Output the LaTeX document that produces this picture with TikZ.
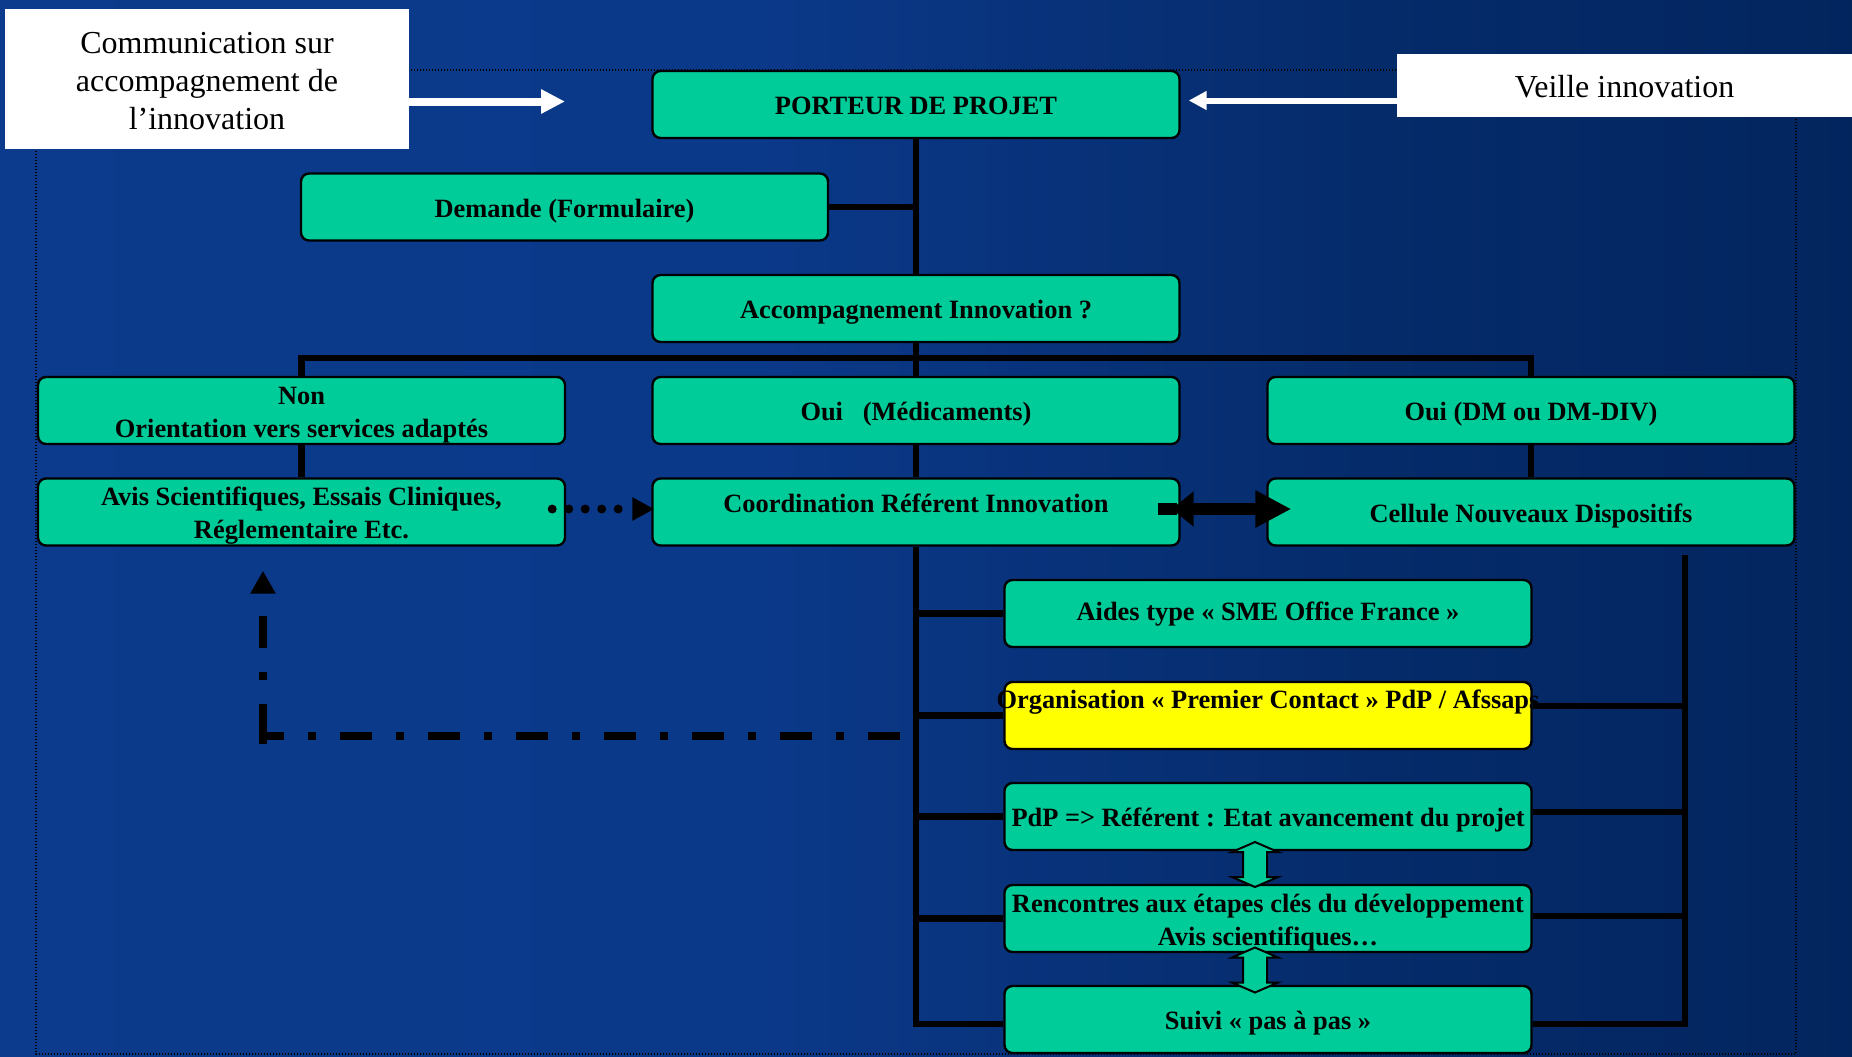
\documentclass[tikz,border=0pt]{standalone}
\usepackage{fontspec}
\setmainfont{Liberation Serif}
\usetikzlibrary{arrows.meta,calc}
\definecolor{boxgreen}{RGB}{0,204,153}
\definecolor{boxyellow}{RGB}{255,255,0}
\definecolor{bgA}{RGB}{13,60,142}
\definecolor{bgB}{RGB}{11,57,138}
\definecolor{bgC}{RGB}{5,43,106}
\definecolor{bgD}{RGB}{2,35,90}
\definecolor{bgE}{RGB}{1,29,76}
\pgfdeclarehorizontalshading{bgsh}{100bp}{color(0bp)=(bgA); color(45bp)=(bgB); color(62bp)=(bgC); color(80bp)=(bgD); color(100bp)=(bgE)}
\pgfdeclarelayer{back}
\pgfdeclarelayer{wires}
\pgfsetlayers{back,wires,main}
% one line of text, with no height for the node, lowered by #1 below the line's centre
\newcommand\bxl[2][5pt]{\raisebox{-#1}[0pt][0pt]{#2}}
\tikzset{
  box/.style={draw=black, line width=1.2pt, rounded corners=4pt, fill=boxgreen,
    minimum width=263.5pt, minimum height=33.5pt, inner xsep=-12pt, inner ysep=0pt,
    align=center, text=black, font=\fontsize{13.2pt}{16.5pt}\selectfont\bfseries},
  wbox/.style={fill=white, draw=none, inner sep=0pt, align=center, text=black,
    font=\fontsize{16pt}{19pt}\selectfont},
  link/.style={draw=black, line width=3.2pt},
  frameline/.style={draw=black, line width=0.6pt, dash pattern=on 0.6pt off 0.9pt},
  warrowA/.style={draw=white, fill=white, line width=4pt, -{Triangle[length=12pt,width=11.5pt]}},
  warrowB/.style={draw=white, fill=white, line width=3pt, -{Triangle[length=9pt,width=9pt]}},
  dotarrow/.style={draw=black, line width=4.5pt, line cap=round, dash pattern=on 0pt off 8.25pt,
    -{Triangle[length=11pt,width=11pt]}},
  ddline/.style={draw=black, line width=3.75pt, dash pattern=on 16pt off 12pt on 4pt off 12pt},
  ddarrow/.style={draw=black, line width=3.75pt,
    dash pattern=on 19.75pt off 12pt on 4pt off 12pt on 16pt off 100pt,
    -{Triangle[length=11.5pt,width=12pt]}},
  bigarrow/.style={draw=black, line width=6pt,
    {Triangle[length=11pt,width=17pt]}-{Triangle[length=18pt,width=17.5pt]}},
  garrow/.style={fill=boxgreen, draw=black, line width=1pt, line join=miter}
}
\newcommand\greenDA[1]{\draw[garrow,shift={(#1)}] (0,-22.5) -- (23,-12.5) -- (12,-12.5) -- (12,12.5) -- (23,12.5) -- (0,22.5) -- (-23,12.5) -- (-12,12.5) -- (-12,-12.5) -- (-23,-12.5) -- cycle;}
\begin{document}
\begin{tikzpicture}[x=0.5pt,y=-0.5pt]
\useasboundingbox (0,0) rectangle (1852,1056);
\begin{pgfonlayer}{back}
  \shade[shading=bgsh] (0,0) rectangle (1852,1056);
  \draw[frameline] (36,70) rectangle (1796,1054);
\end{pgfonlayer}

% white boxes
\node[wbox, minimum width=202pt, minimum height=70pt] (comm) at (207,78.5) {\bxl[6.5pt]{Communication sur}\\\bxl[6.5pt]{accompagnement de}\\\bxl[6.5pt]{l’innovation}};
\node[wbox, minimum width=227.5pt, minimum height=31.5pt] (veille) at (1624.5,85.5) {\bxl[6pt]{Veille innovation}};

% green boxes
\node[box] (porteur) at (916,104.5) {\bxl{PORTEUR DE PROJET}};
\node[box] (demande) at (564.5,207) {\bxl{Demande (Formulaire)}};
\node[box] (accomp) at (916,308.5) {\bxl{Accompagnement Innovation ?}};
\node[box] (non) at (301.5,410.5) {\bxl{Non}\\\bxl{Orientation vers services adaptés}};
\node[box] (oui) at (916,410.5) {\bxl{Oui~~~(Médicaments)}};
\node[box] (ouidm) at (1531,410.5) {\bxl{Oui (DM ou DM-DIV)}};
\node[box] (avis) at (301.5,512) {\bxl{Avis Scientifiques, Essais Cliniques,}\\\bxl{Réglementaire Etc.}};
\node[box] (coord) at (916,512) {\bxl[0.3pt]{Coordination Référent Innovation}};
\node[box] (cellule) at (1531,512) {\bxl{Cellule Nouveaux Dispositifs}};
\node[box] (aides) at (1268,613.5) {\bxl[3.6pt]{Aides type « SME Office France »}};
\node[box, fill=boxyellow] (orga) at (1268,715.5) {\bxl[-3.6pt]{Organisation « Premier Contact » PdP / Afssaps}};
\node[box] (pdp) at (1268,816.5) {\bxl{PdP => Référent : Etat avancement du projet}};
\node[box] (ren) at (1268,918.5) {\bxl{Rencontres aux étapes clés du développement}\\\bxl{Avis scientifiques…}};
\node[box] (suivi) at (1268,1019.5) {\bxl{Suivi « pas à pas »}};

% helper coordinates
\coordinate (bar) at (916,358);
\coordinate (rtop) at (1685,555);
\coordinate (commtip) at (565,101.5);
\coordinate (vtip) at ($(porteur.east)+(8,-4)$);
\coordinate (ddstart) at (900,736);
\coordinate (ddtip) at ($(avis.south)+(-38.5,24)$);
\coordinate (ddcorner) at (ddtip |- ddstart);
\coordinate (m1) at ($(pdp.south)!0.5!(ren.north)+(-13,-3)$);
\coordinate (m2) at ($(ren.south)!0.5!(suivi.north)+(-13,1)$);

% connectors behind boxes
\begin{pgfonlayer}{wires}
  \draw[link] (porteur.south) -- (coord.north);
  \draw[link] (demande.east) -| (porteur.south);
  \draw[link] (non.north) |- (bar) -| (ouidm.north);
  \draw[link] (non.south) -- (avis.north);
  \draw[link] (ouidm.south) -- (cellule.north);
  \draw[link] (aides.west) -| (coord.south);
  \draw[link] (orga.west) -| (coord.south);
  \draw[link] (pdp.west) -| (coord.south);
  \draw[link] (ren.west) -| (coord.south);
  \draw[link] ($(suivi.west)+(0,4.5)$) -| (coord.south);
  \draw[link] ($(orga.east)+(0,-9.5)$) -| (rtop);
  \draw[link] ($(pdp.east)+(0,-4.5)$) -| (rtop);
  \draw[link] ($(ren.east)+(0,-2.5)$) -| (rtop);
  \draw[link] ($(suivi.east)+(0,4.5)$) -| (rtop);
  \draw[ddline] (ddstart) -- (ddcorner);
  \draw[ddarrow] ($(ddcorner)+(0,7.5)$) -- (ddtip);
\end{pgfonlayer}

% arrows on top
\draw[warrowA] ($(comm.east)+(0,23)$) -- (commtip);
\draw[warrowB] ($(veille.west)+(0,15)$) -- (vtip);
\draw[dotarrow] ($(avis.east)+(-14,-3)$) -- ($(coord.west)+(3,-3)$);
\draw[draw=black, line width=6pt] ($(coord.east)+(-23,-3)$) -- ($(coord.east)+(-4,-3)$);
\draw[bigarrow] ($(coord.east)+(-9,-3)$) -- ($(cellule.west)+(25,-3)$);
\greenDA{m1}
\greenDA{m2}
\end{tikzpicture}
\end{document}
